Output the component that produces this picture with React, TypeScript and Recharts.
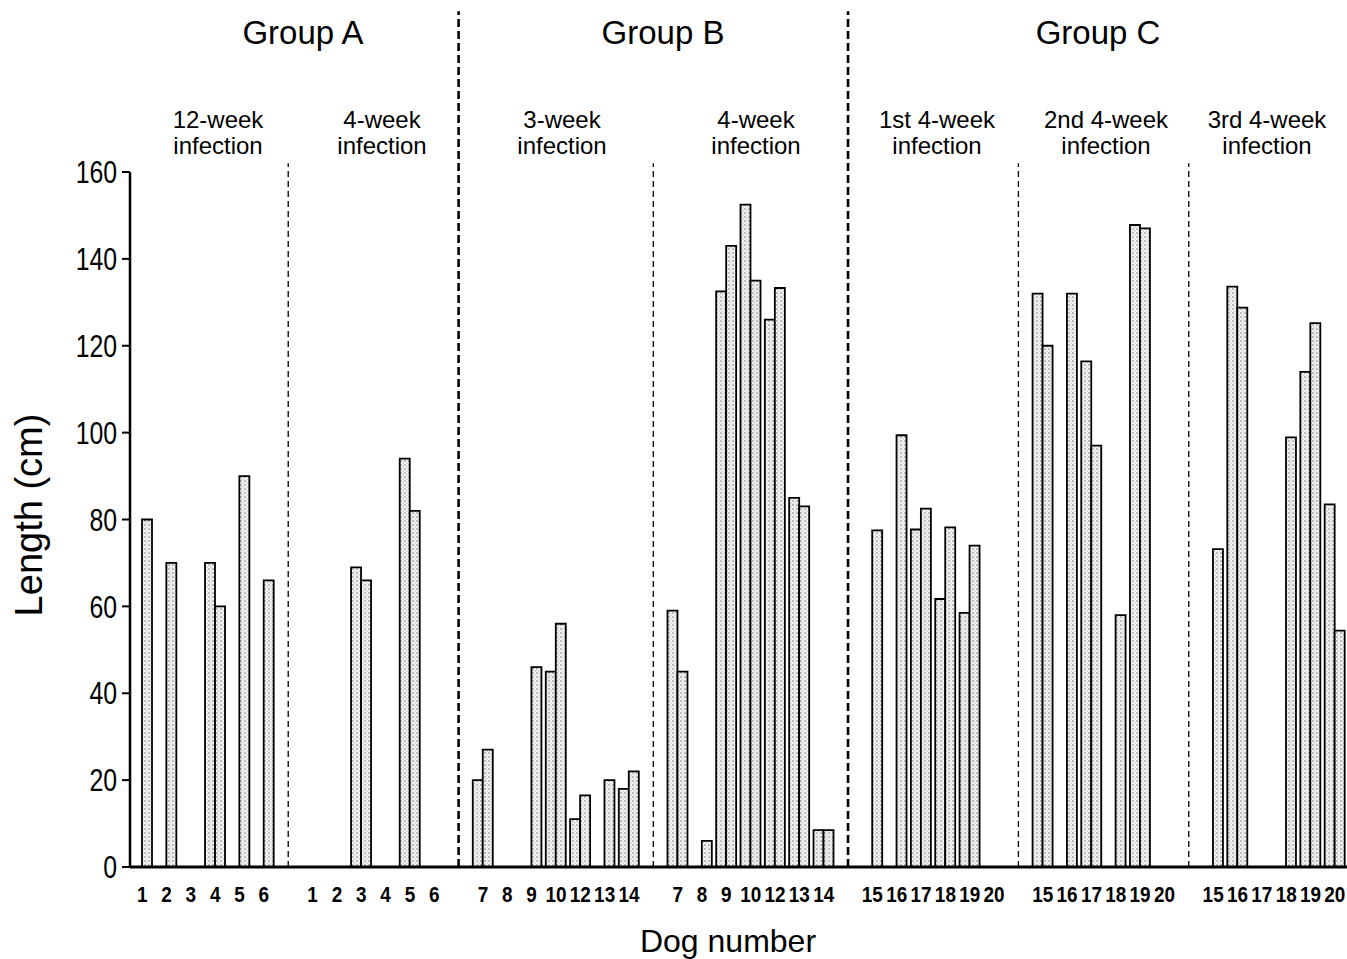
import React from "react";
import { BarChart, Bar, XAxis, YAxis, ReferenceLine } from "recharts";

// dog numbers per panel
const groupADogs = ["1", "2", "3", "4", "5", "6"];
const groupBDogs = ["7", "8", "9", "10", "12", "13", "14"];
const groupCDogs = ["15", "16", "17", "18", "19", "20"];

// lengths (cm), first and second bar of each dog
const a12wFirst = [0, 0, 0, 70, 0, 0];
const a12wSecond = [80, 70, 0, 60, 90, 66];
const a4wFirst = [0, 0, 69, 0, 94, 0];
const a4wSecond = [0, 0, 66, 0, 82, 0];
const b3wFirst = [20, 0, 0, 45, 11, 0, 18];
const b3wSecond = [27, 0, 46, 56, 16.5, 20, 22];
const b4wFirst = [59, 0, 132.5, 152.5, 126, 85, 8.5];
const b4wSecond = [45, 6, 143, 135, 133.3, 83, 8.5];
const c1stFirst = [0, 0, 77.7, 61.7, 58.5, 0];
const c1stSecond = [77.5, 99.4, 82.5, 78.2, 74, 0];
const c2ndFirst = [132, 0, 116.4, 0, 147.8, 0];
const c2ndSecond = [120, 132, 97, 58, 147, 0];
const c3rdFirst = [0, 133.6, 0, 0, 114, 83.5];
const c3rdSecond = [73.2, 128.8, 0, 98.9, 125.2, 54.4];

const yTicks = [0, 20, 40, 60, 80, 100, 120, 140, 160];

const panels = [
  { id: "a12", dogs: groupADogs, first: a12wFirst, second: a12wSecond },
  { id: "a4", dogs: groupADogs, first: a4wFirst, second: a4wSecond },
  { id: "b3", dogs: groupBDogs, first: b3wFirst, second: b3wSecond },
  { id: "b4", dogs: groupBDogs, first: b4wFirst, second: b4wSecond },
  { id: "c1", dogs: groupCDogs, first: c1stFirst, second: c1stSecond },
  { id: "c2", dogs: groupCDogs, first: c2ndFirst, second: c2ndSecond },
  { id: "c3", dogs: groupCDogs, first: c3rdFirst, second: c3rdSecond },
];

// which panel breaks are between groups (heavy dashes)
const breakIsGroup = [false, true, false, true, false, false];

const rows: any[] = [];
const gapKeys: string[] = [];
panels.forEach((p, pi) => {
  if (pi > 0) {
    const key = `gap-${pi}`;
    gapKeys.push(key);
    rows.push({ key, dog: "" });
  }
  p.dogs.forEach((d, i) => {
    rows.push({ key: `${p.id}-${d}`, dog: d, first: p.first[i], second: p.second[i] });
  });
});
const labelOf: Record<string, string> = {};
rows.forEach((r) => (labelOf[r.key] = r.dog));

const FONT = "'Liberation Sans', Arial, Helvetica, sans-serif";

const subTitles = [
  { x: 218, text: "12-week" },
  { x: 382, text: "4-week" },
  { x: 562, text: "3-week" },
  { x: 756, text: "4-week" },
  { x: 937, text: "1st 4-week" },
  { x: 1106, text: "2nd 4-week" },
  { x: 1267, text: "3rd 4-week" },
];

// condensed tick labels (the original uses a narrow face)
const YTick = ({ x, y, payload }: any) => (
  <g transform={`translate(${x},${y}) scale(0.8,1)`}>
    <text textAnchor="end" dy="0.36em" fontSize={31} fontFamily={FONT} fill="#000">
      {payload.value}
    </text>
  </g>
);

const XTick = ({ x, y, payload }: any) => (
  <g transform={`translate(${x},${y}) scale(0.86,1)`}>
    <text textAnchor="middle" dy="0.72em" fontSize={22} fontWeight={700} fontFamily={FONT} fill="#000">
      {labelOf[payload.value] || ""}
    </text>
  </g>
);

export default function App() {
  return (
    <div style={{ position: "absolute", left: 0, top: 0, background: "#fff" }}>
      <BarChart
        width={1347}
        height={959}
        data={rows}
        margin={{ top: 172, right: 0, bottom: 52, left: 50 }}
        barGap={0}
      >
        <defs>
          <pattern id="stipple" width="4" height="4" patternUnits="userSpaceOnUse">
            <rect width="4" height="4" fill="#f2f2f2" />
            <circle cx="1" cy="1" r="0.8" fill="#777" />
            <circle cx="3" cy="3" r="0.6" fill="#aaa" />
          </pattern>
        </defs>
        <XAxis
          dataKey="key"
          interval={0}
          height={40}
          tickLine={false}
          tickSize={6}
          tickMargin={13}
          axisLine={{ stroke: "#000", strokeWidth: 3 }}
          tick={<XTick />}
        />
        <YAxis
          width={80}
          domain={[0, 160]}
          ticks={yTicks}
          interval={0}
          tickSize={8}
          tickMargin={5}
          axisLine={{ stroke: "#000", strokeWidth: 2.5 }}
          tickLine={{ stroke: "#000", strokeWidth: 2 }}
          tick={<YTick />}
        />
        {gapKeys.map((k, i) => (
          <ReferenceLine
            key={k}
            segment={[
              { x: k, y: 0 },
              { x: k, y: breakIsGroup[i] ? 197 : 162 },
            ]}
            ifOverflow="visible"
            stroke="#000"
            strokeWidth={breakIsGroup[i] ? 2.6 : 1.3}
            strokeDasharray={breakIsGroup[i] ? "8 4" : "6 4"}
          />
        ))}
        <Bar
          dataKey="first"
          barSize={10}
          fill="url(#stipple)"
          stroke="#000"
          strokeWidth={1.8}
          isAnimationActive={false}
        />
        <Bar
          dataKey="second"
          barSize={10}
          fill="url(#stipple)"
          stroke="#000"
          strokeWidth={1.8}
          isAnimationActive={false}
        />

        {/* titles */}
        <text x={303} y={44} textAnchor="middle" fontSize={33} fontFamily={FONT} fill="#000">Group A</text>
        <text x={663} y={44} textAnchor="middle" fontSize={33} fontFamily={FONT} fill="#000">Group B</text>
        <text x={1098} y={44} textAnchor="middle" fontSize={33} fontFamily={FONT} fill="#000">Group C</text>
        {subTitles.map((s) => (
          <g key={s.x}>
            <text x={s.x} y={128} textAnchor="middle" fontSize={24} fontFamily={FONT} fill="#000">{s.text}</text>
            <text x={s.x} y={154} textAnchor="middle" fontSize={24} fontFamily={FONT} fill="#000">infection</text>
          </g>
        ))}
        <text
          x={42}
          y={515}
          textAnchor="middle"
          fontSize={38}
          fontFamily={FONT}
          fill="#000"
          transform="rotate(-90 42 515)"
        >
          Length (cm)
        </text>
        <text x={728} y={952} textAnchor="middle" fontSize={32} fontFamily={FONT} fill="#000">Dog number</text>
      </BarChart>
    </div>
  );
}
